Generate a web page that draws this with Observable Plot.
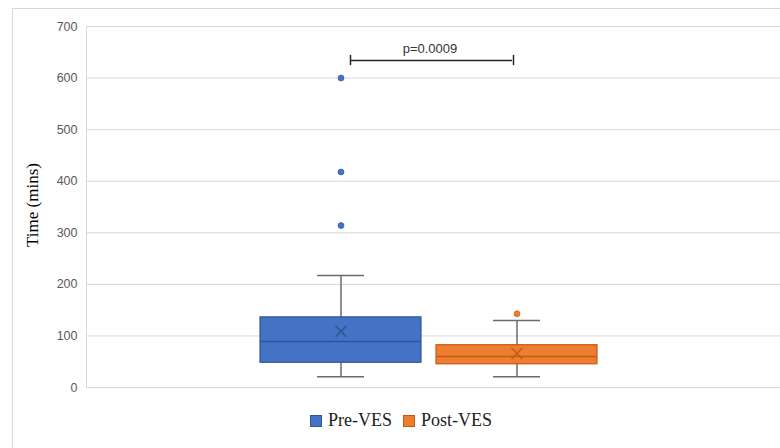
<!DOCTYPE html>
<html>
<head>
<meta charset="utf-8">
<script src="https://cdn.jsdelivr.net/npm/d3@7"></script>
<script src="https://cdn.jsdelivr.net/npm/@observablehq/plot@0.6"></script>
<style>
  html, body { margin: 0; padding: 0; background: #fff; }
  #wrap { position: relative; width: 780px; height: 448px; overflow: hidden; background: #fff; }
  #frame { position: absolute; left: 12px; top: 8px; width: 800px; height: 460px;
           border-left: 1px solid #d9d9d9; border-top: 1px solid #d9d9d9; }
  #chart { position: absolute; left: 0; top: 0; }
  #ytitle { position: absolute; left: 33px; top: 205px; transform: translate(-50%, -50%) rotate(-90deg);
            font-family: "Liberation Serif", serif; font-size: 17px; color: #000; white-space: nowrap; }
  #legend { position: absolute; top: 410px; left: 310px; display: flex; gap: 11px;
            font-family: "Liberation Serif", serif; font-size: 18px; color: #222; }
  .item { display: flex; align-items: center; gap: 6px; }
  .sw { width: 12px; height: 12px; display: inline-block; box-sizing: border-box; }
</style>
</head>
<body>
<div id="wrap">
  <div id="frame"></div>
  <div id="chart"></div>
  <div id="ytitle">Time (mins)</div>
  <div id="legend"></div>
</div>
<script>
// ---- data ----
const categories  = ["Pre-VES", "Post-VES"];
const whiskerLow  = [21, 21];
const q1          = [48, 45];
const medians     = [89, 60];
const q3          = [136, 82];
const whiskerHigh = [217, 130];
const means       = [109, 66];
const outlierCats = ["Pre-VES", "Pre-VES", "Pre-VES", "Post-VES"];
const outlierVals = [600, 418, 314, 143];
const yTicks      = [0, 100, 200, 300, 400, 500, 600, 700];
const pLabel      = "p=0.0009";
const bracketValue = 634;

// ---- styles ----
const fills   = {"Pre-VES": "#4472C4", "Post-VES": "#ED7D31"};
const darks   = {"Pre-VES": "#2F5597", "Post-VES": "#C55A11"};
const whiskerColor = "#6b6b6b";

const stats = categories.map((c, i) => ({
  cat: c, lo: whiskerLow[i], q1: q1[i], median: medians[i], q3: q3[i], hi: whiskerHigh[i], mean: means[i]
}));
const outliers = outlierVals.map((v, i) => ({cat: outlierCats[i], value: v}));
const bracket = [{a: categories[0], b: categories[1], y: bracketValue, label: pLabel}];

const chart = Plot.plot({
  width: 780,
  height: 400,
  marginLeft: 86,
  marginRight: 0,
  marginTop: 26,
  marginBottom: 13,
  style: {background: "transparent", fontFamily: "'Liberation Sans', Arial, sans-serif"},
  x: {type: "band", domain: categories, paddingInner: 0.085, paddingOuter: 1.003, align: 0.487, axis: null},
  y: {domain: [0, 700], axis: null},
  color: {domain: categories, range: categories.map(c => fills[c])},
  marks: [
    Plot.gridY(yTicks, {stroke: "#d9d9d9", strokeOpacity: 1, strokeWidth: 1}),
    Plot.frame({anchor: "left", stroke: "#d9d9d9"}),
    Plot.axisY(yTicks, {tickSize: 0, tickPadding: 9, label: null, fill: "#595959", fontSize: 12.5, tickFormat: d => String(d)}),
    // whiskers
    Plot.ruleX(stats, {x: "cat", y1: "lo", y2: "hi", stroke: whiskerColor, strokeWidth: 1.5}),
    Plot.tickY(stats, {x: "cat", y: "lo", insetLeft: 57, insetRight: 57, stroke: whiskerColor, strokeWidth: 1.5}),
    Plot.tickY(stats, {x: "cat", y: "hi", insetLeft: 57, insetRight: 57, stroke: whiskerColor, strokeWidth: 1.5}),
    // boxes
    Plot.barY(stats, {x: "cat", y1: "q1", y2: "q3", fill: "cat", stroke: d => darks[d.cat], strokeWidth: 1.2}),
    Plot.tickY(stats, {x: "cat", y: "median", stroke: d => darks[d.cat], strokeWidth: 1.5}),
    Plot.dot(stats, {x: "cat", y: "mean", symbol: "times", r: 5, stroke: d => darks[d.cat], strokeWidth: 1.5}),
    // outliers
    Plot.dot(outliers, {x: "cat", y: "value", r: 3, fill: "cat", stroke: d => darks[d.cat], strokeWidth: 0.6}),
    // significance bracket
    Plot.ruleY(bracket, {x1: "a", x2: "b", y: "y", insetLeft: 90, insetRight: 85, stroke: "#262626", strokeWidth: 1.5}),
    Plot.ruleX(bracket, {x: "a", y1: d => d.y - 10, y2: d => d.y + 10, dx: 9.5, stroke: "#262626", strokeWidth: 1.5}),
    Plot.ruleX(bracket, {x: "b", y1: d => d.y - 10, y2: d => d.y + 10, dx: -3.5, stroke: "#262626", strokeWidth: 1.5}),
    Plot.text(bracket, {x: "a", y: "y", text: "label", dx: 89, dy: -12, fill: "#333", fontSize: 13})
  ]
});
document.getElementById("chart").appendChild(chart);

const legend = document.getElementById("legend");
categories.forEach(c => {
  const it = document.createElement("div");
  it.className = "item";
  const sw = document.createElement("span");
  sw.className = "sw";
  sw.style.background = fills[c];
  sw.style.border = "1px solid " + darks[c];
  const t = document.createElement("span");
  t.textContent = c;
  it.appendChild(sw); it.appendChild(t);
  legend.appendChild(it);
});
</script>
</body>
</html>
